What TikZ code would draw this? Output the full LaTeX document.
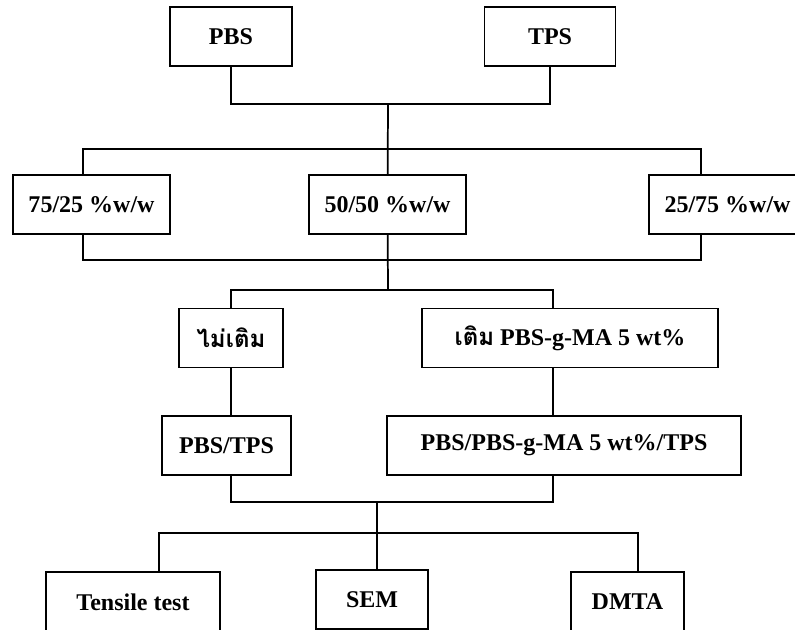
\documentclass[tikz,border=0pt]{standalone}
\usepackage{fontspec}
\setmainfont{Liberation Serif}
\newfontfamily\thaifont[Script=Thai]{Loma}
\usepackage{tikz}

\begin{document}
\begin{tikzpicture}[
  x=0.75pt, y=-0.75pt,
  box/.style={draw, line width=1.4pt, inner sep=0pt, minimum height=44.25pt, font=\fontsize{18}{20}\selectfont\bfseries},
  link/.style={line width=1.3pt}
]
\useasboundingbox (0,0) rectangle (795,630);
\clip (0,0) rectangle (795,630);

% raw materials
\node[box, minimum width=91.5pt] (pbs) at (231,36.5) {PBS};
\node[box, minimum width=98.25pt] (tps) at (550,36.5) {TPS};
% blend ratios
\node[box, minimum width=117.75pt] (r75) at (91.5,204.5) {75/25 \%w/w};
\node[box, minimum width=117.75pt] (r50) at (387.5,204.5) {50/50 \%w/w};
\node[box, minimum width=117.75pt] (r25) at (727.5,204.5) {25/75 \%w/w};
% compatibilizer
\node[box, minimum width=78pt] (nofill) at (231,338) {\thaifont ไม่เติม};
\node[box, minimum width=222pt] (fill) at (570,338) {{\thaifont เติม} PBS-g-MA 5 wt\%};
\node[box, minimum width=96.75pt] (blend) at (226.5,445.5) {PBS/TPS};
\node[box, minimum width=265.5pt] (blendma) at (564,445.5) {PBS/PBS-g-MA 5 wt\%/TPS};
% tests
\node[box, minimum width=130.5pt, minimum height=45pt] (tensile) at (133,602) {Tensile test};
\node[box, minimum width=84pt] (sem) at (372,599.5) {SEM};
\node[box, minimum width=84.75pt, minimum height=45pt] (dmta) at (627.5,602) {DMTA};

\coordinate (top) at (388,104);
\coordinate (mixL) at (83,149);
\coordinate (mixR) at (701,149);
\coordinate (colL) at (83,260);
\coordinate (colR) at (701,260);
\coordinate (split) at (388,290);
\coordinate (splitR) at (553,290);
\coordinate (joinL) at (231,502);
\coordinate (joinR) at (553,502);
\coordinate (tst) at (377,533);
\coordinate (tstL) at (159,533);
\coordinate (tstR) at (638,533);

\draw[link] (pbs) |- (top) -| (tps);
\draw[link] (top) -- (r50);
\draw[link] (mixL |- r75.north) -- (mixL) -- (mixR) -- (mixR |- r25.north);
\draw[link] (colL |- r75.south) -- (colL) -- (colR) -- (colR |- r25.south);
\draw[link] (r50) -- (split);
\draw[link] (nofill) |- (splitR) -- (splitR |- fill.north);
\draw[link] (nofill.south) -- (nofill.south |- blend.north);
\draw[link] (splitR |- fill.south) -- (splitR |- blendma.north);
\draw[link] (nofill.south |- blend.south) -- (joinL) -- (joinR) -- (joinR |- blendma.south);
\draw[link] (joinL -| tst) -- (tst |- sem.north);
\draw[link] (tstL |- tensile.north) -- (tstL) -- (tstR) -- (tstR |- dmta.north);
\end{tikzpicture}
\end{document}
